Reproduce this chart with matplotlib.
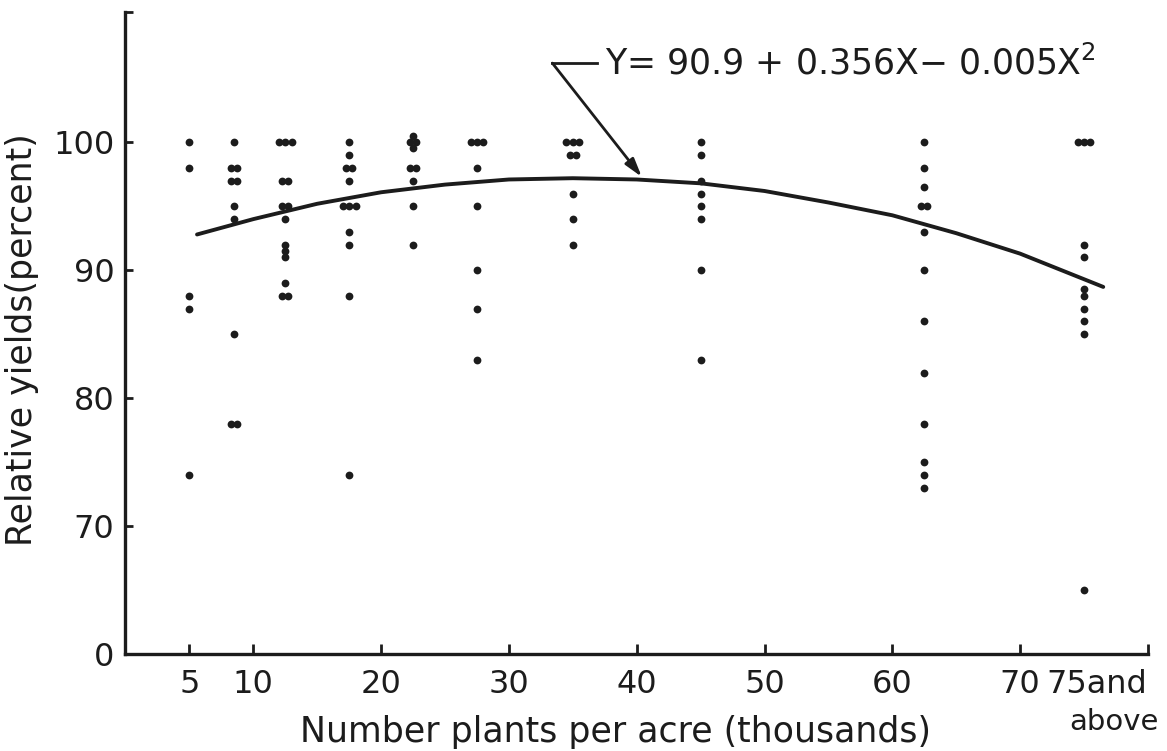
import matplotlib
matplotlib.use("Agg")
import matplotlib.pyplot as plt

# plant density columns (thousands per acre); last one is "75 and above"
plant_density = [5, 8.5, 12.5, 17.5, 22.5, 27.5, 35, 45, 62.5, 75]

# relative yields (percent) read per column
yields_by_column = [
    [100, 98, 88, 87, 74],
    [100, 98, 98, 97, 97, 95, 94, 85, 78, 78],
    [100, 100, 100, 97, 97, 95, 95, 94, 92, 91.5, 91, 89, 88, 88],
    [100, 99, 98, 98, 97, 95, 95, 95, 93, 92, 88, 74],
    [100.5, 100, 100, 99.6, 98, 98, 97, 95, 92],
    [100, 100, 100, 98, 95, 90, 87, 83],
    [100, 100, 100, 99, 99, 96, 94, 92],
    [100, 99, 97, 96, 95, 94, 90, 83],
    [100, 98, 96.5, 95, 95, 93, 90, 86, 82, 78, 75, 74, 73],
    [100, 100, 100, 92, 91, 88.5, 88, 87, 86, 85, 65],
]

# fitted curve
curve_x = [5.6, 10, 15, 20, 25, 30, 35, 40, 45, 50, 55, 60, 65, 70, 76.5]
curve_y = [92.8, 94.0, 95.2, 96.1, 96.7, 97.1, 97.2, 97.1, 96.8, 96.2,
           95.3, 94.3, 92.9, 91.3, 88.7]

x_ticks = [5, 10, 20, 30, 40, 50, 60, 70, 80]
x_tick_labels = ["5", "10", "20", "30", "40", "50", "60", "70", ""]
y_ticks = [60, 70, 80, 90, 100, 110.2]
y_tick_labels = ["0", "70", "80", "90", "100", ""]

equation = "Y= 90.9 + 0.356X\u2212 0.005X$^{2}$"

ink = "#1c1c1c"
plt.rcParams["font.family"] = ["DejaVu Sans"]
plt.rcParams["mathtext.fontset"] = "dejavusans"

fig = plt.figure(figsize=(11.67, 7.51), dpi=100)
ax = fig.add_axes([0.1075, 0.1292, 0.8762, 0.8549])

# points; duplicates in a column drawn side by side
xs, ys = [], []
for xc, col in zip(plant_density, yields_by_column):
    seen = {}
    for v in col:
        seen[v] = seen.get(v, 0) + 1
    for v, n in seen.items():
        for k in range(n):
            xs.append(xc + (k - (n - 1) / 2) * 0.5)
            ys.append(v)
ax.plot(xs, ys, "o", color=ink, ms=5.6, mec="none", zorder=3)

ax.plot(curve_x, curve_y, color=ink, lw=2.8, solid_capstyle="round", zorder=2)

# equation label with leader arrow
ax.text(37.5, 106.2, equation, fontsize=25, color=ink, va="center", ha="left")
ax.plot([36.9, 33.4], [106.2, 106.2], color=ink, lw=2, clip_on=False)
ax.annotate("", xy=(40.4, 97.3), xytext=(33.4, 106.2),
            arrowprops=dict(arrowstyle="-|>,head_length=1.1,head_width=0.32",
                            color=ink, lw=2, shrinkA=0, shrinkB=0))

ax.set_xlim(0, 80)
ax.set_ylim(60, 110.2)
ax.set_xticks(x_ticks)
ax.set_xticklabels(x_tick_labels)
ax.set_yticks(y_ticks)
ax.set_yticklabels(y_tick_labels)

ax.annotate("75and", xy=(76.0, 60), xytext=(0, -11), textcoords="offset points",
            ha="center", va="top", fontsize=23, color=ink, annotation_clip=False)
ax.annotate("above", xy=(77.3, 60), xytext=(0, -39), textcoords="offset points",
            ha="center", va="top", fontsize=21, color=ink, annotation_clip=False)

for s in ["top", "right"]:
    ax.spines[s].set_visible(False)
for s in ["left", "bottom"]:
    ax.spines[s].set_linewidth(2.4)
    ax.spines[s].set_color(ink)

ax.tick_params(axis="x", direction="in", length=7, width=2, pad=11,
               labelsize=23, colors=ink)
ax.tick_params(axis="y", direction="in", length=6, width=2, pad=8,
               labelsize=23, colors=ink)

ax.set_xlabel("Number plants per acre (thousands)", fontsize=25, color=ink)
ax.set_ylabel("Relative yields(percent)", fontsize=25, color=ink)
ax.xaxis.set_label_coords(0.479, -0.1215)
ax.yaxis.set_label_coords(-0.101, 0.489)
ax.xaxis.label.set_va("center")
ax.yaxis.label.set_va("center")

fig.savefig("out.png", dpi=100, facecolor="white")
